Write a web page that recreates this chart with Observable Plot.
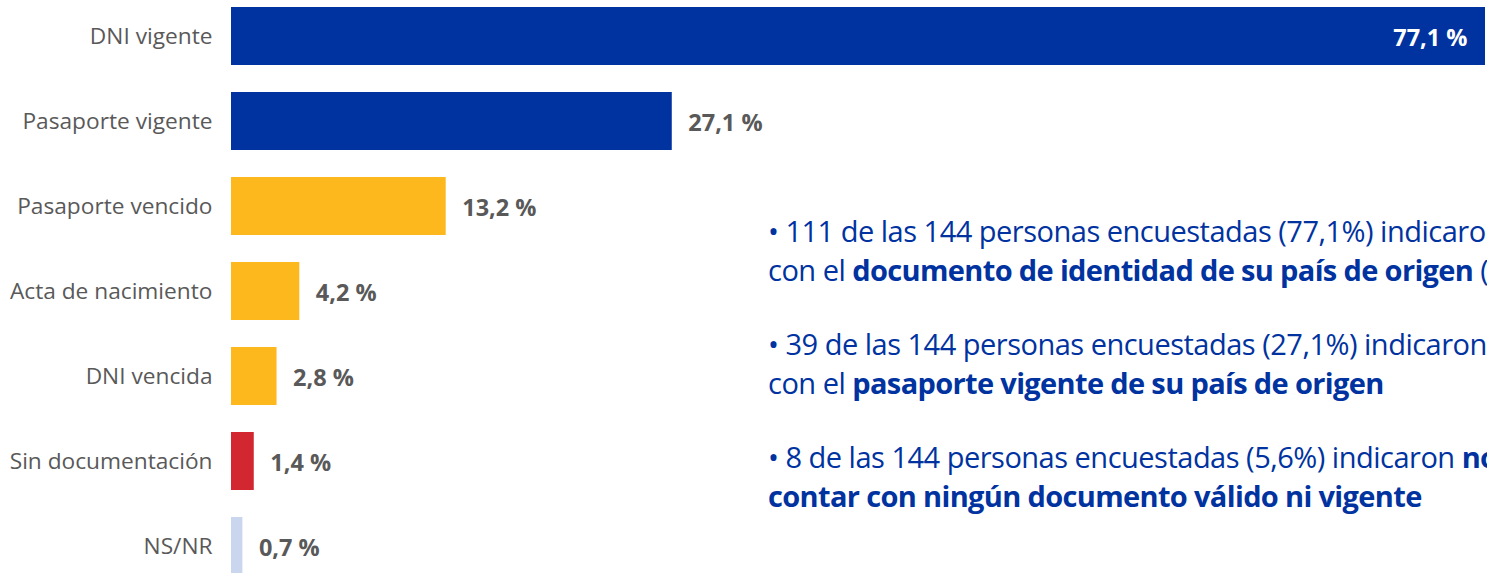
<!DOCTYPE html>
<html><head><meta charset="utf-8">
<script src="https://cdn.jsdelivr.net/npm/d3@7"></script>
<script src="https://cdn.jsdelivr.net/npm/@observablehq/plot@0.6"></script>
<style>
html,body{margin:0;padding:0;background:#fff;overflow:hidden;width:1487px;height:573px;}
#wrap{position:relative;width:1487px;height:573px;overflow:hidden;}
#notes{position:absolute;left:768px;top:212px;white-space:nowrap;color:#0033a0;font-family:"Open Sans",sans-serif;font-size:29px;line-height:38.5px;letter-spacing:-0.5px;}
#notes p{margin:0 0 36px 0;}
#notes b{font-weight:700;letter-spacing:-0.65px;}
</style></head>
<body><div id="wrap"><div id="chart"></div>
<div id="notes">
<p>• 111 de las 144 personas encuestadas (77,1%) indicaron contar<br>con el <b>documento de identidad de su país de origen</b> (DNI)</p>
<p>• 39 de las 144 personas encuestadas (27,1%) indicaron contar<br>con el <b>pasaporte vigente de su país de origen</b></p>
<p>• 8 de las 144 personas encuestadas (5,6%) indicaron <b>no</b><br><b>contar con ningún documento válido ni vigente</b></p>
</div></div>
<script>
const categories = ["DNI vigente","Pasaporte vigente","Pasaporte vencido","Acta de nacimiento","DNI vencida","Sin documentación","NS/NR"];
const values = [77.1, 27.1, 13.2, 4.2, 2.8, 1.4, 0.7];
const groups = ["vigente","vigente","vencido","vencido","vencido","sin","nsnr"];
const groupColors = {vigente:"#0033a0", vencido:"#fdb81e", sin:"#d22630", nsnr:"#c9d6ee"};
const data = categories.map((c,i)=>({cat:c, v:values[i], g:groups[i], label: values[i].toFixed(1).replace(".", ",") + " %"}));
const fmt = d => d.label;
const chart = Plot.plot({
  width:1487, height:576,
  marginLeft:231, marginRight:2, marginTop:6, marginBottom:0,
  style:{fontFamily:"'Open Sans', sans-serif", background:"transparent"},
  x:{domain:[0,77.1], axis:null},
  y:{domain:categories, paddingInner:0.32, paddingOuter:0, label:null},
  marks:[
    Plot.barX(data,{x:"v", y:"cat", fill:d=>groupColors[d.g]}),
    Plot.text(data.filter(d=>d.v>50),{x:"v", y:"cat", text:fmt, textAnchor:"end", dx:-18, dy:2, fill:"white", fontWeight:"bold", fontSize:23.5}),
    Plot.text(data.filter(d=>d.v<=50),{x:"v", y:"cat", text:fmt, textAnchor:"start", dx:16, dy:2, fill:"#595959", fontWeight:"bold", fontSize:23.5}),
    Plot.axisY({tickSize:0, tickPadding:19, fontSize:22.7, color:"#595959", label:null})
  ]
});
document.getElementById("chart").appendChild(chart);
</script>
</body></html>
